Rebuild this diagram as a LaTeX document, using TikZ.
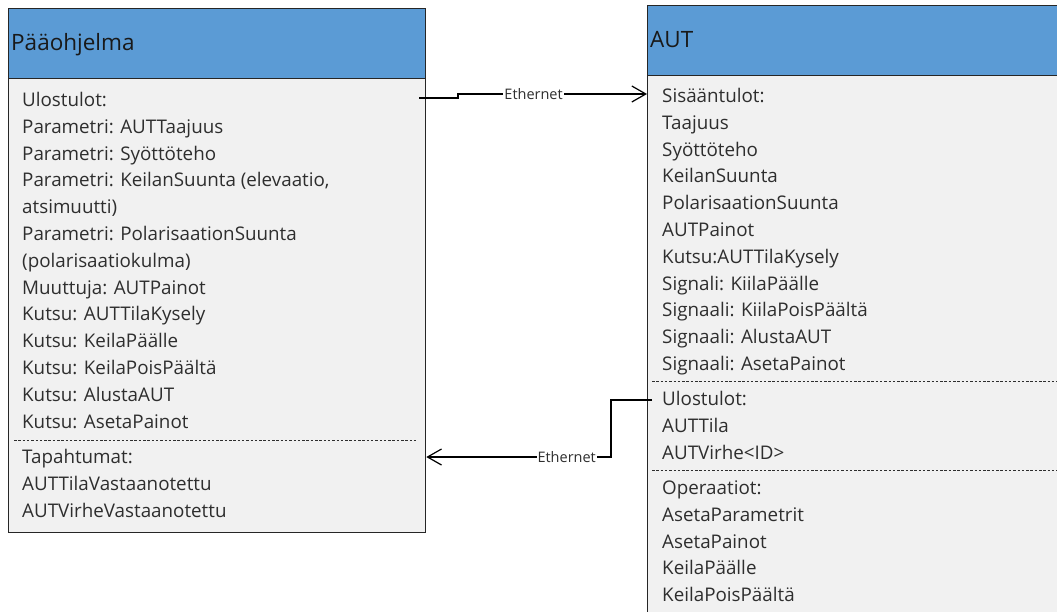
\documentclass[tikz,border=0pt]{standalone}
\usepackage{fontspec}
\setmainfont{Open Sans}
\usetikzlibrary{arrows.meta,calc}
\definecolor{hdrblue}{HTML}{5B9BD5}
\definecolor{bodygray}{HTML}{F1F1F1}
\definecolor{txtgray}{HTML}{2E2E2E}
\tikzset{
  hdr/.style={draw=black!85, line width=1.3pt, fill=hdrblue, anchor=north west, inner sep=0pt},
  body/.style={draw=black!85, line width=1.3pt, fill=bodygray, anchor=north west, inner sep=0pt},
  title/.style={anchor=west, inner sep=0pt, font=\fontsize{22.5}{26}\selectfont, text=black!90},
  item/.style={anchor=base west, inner sep=0pt, font=\fontsize{18.8}{22}\selectfont, text=txtgray},
  sep/.style={draw=txtgray, line width=0.8pt, dash pattern=on 2.5pt off 1.8pt},
  conn/.style={draw=black, line width=1.2pt, -{Straight Barb[length=14pt,width=16pt,line width=1.2pt]}},
  lbl/.style={fill=white, inner sep=1pt, font=\fontsize{14.5}{16}\selectfont, text=txtgray}
}
\begin{document}
\begin{tikzpicture}[x=1pt,y=-1pt]
\useasboundingbox (0,0) rectangle (1057,611);
\clip (0,0) rectangle (1057,611);

% Pääohjelma class box
\node[body, minimum width=417pt, minimum height=454pt] (mainbox) at (8,78) {};
\node[hdr, minimum width=417pt, minimum height=70pt] (mainhdr) at (8,8) {};
\node[title] (maintitle) at (11,45) {Pääohjelma};
\foreach \t [count=\i from 0] in {Ulostulot:, Parametri: AUTTaajuus, Parametri: Syöttöteho,
    {Parametri: KeilanSuunta (elevaatio,}, atsimuutti), Parametri: PolarisaationSuunta,
    (polarisaatiokulma), Muuttuja: AUTPainot, Kutsu: AUTTilaKysely, Kutsu: KeilaPäälle,
    Kutsu: KeilaPoisPäältä, Kutsu: AlustaAUT, Kutsu: AsetaPainot}
  \node[item] (L\i) at (22,{106.5+26.8*\i}) {\t};
\draw[sep] (14,440) -- (416,440);
\foreach \t [count=\i from 0] in {Tapahtumat:, AUTTilaVastaanotettu, AUTVirheVastaanotettu}
  \node[item] (T\i) at (22,{463.5+26.8*\i}) {\t};

% AUT class box
\node[body, minimum width=440pt, minimum height=560pt] (autbox) at (647,75) {};
\node[hdr, minimum width=440pt, minimum height=70.5pt] (authdr) at (647,4.5) {};
\node[title] (auttitle) at (650,40) {AUT};
\foreach \t [count=\i from 0] in {Sisääntulot:, Taajuus, Syöttöteho, KeilanSuunta,
    PolarisaationSuunta, AUTPainot, Kutsu:AUTTilaKysely, Signali: KiilaPäälle,
    Signaali: KiilaPoisPäältä, Signaali: AlustaAUT, Signaali: AsetaPainot}
  \node[item] (R\i) at (662,{102.5+26.8*\i}) {\t};
\draw[sep] (652,381) -- (1057,381);
\foreach \t [count=\i from 0] in {Ulostulot:, AUTTila, AUTVirhe<ID>}
  \node[item] (U\i) at (662,{405.5+26.8*\i}) {\t};
\draw[sep] (652,470) -- (1057,470);
\foreach \t [count=\i from 0] in {Operaatiot:, AsetaParametrit, AsetaPainot, KeilaPäälle, KeilaPoisPäältä}
  \node[item] (O\i) at (662,{494.5+26.8*\i}) {\t};

% Ethernet links
\draw[conn] ([xshift=-7pt]mainbox.east |- 0,98) -- (458,98) -- (458,94)
  -- node[lbl, pos=0.4] (eth1) {Ethernet} (autbox.west |- 0,94);
\draw[conn] ([xshift=5pt]autbox.west |- 0,400) -- (611,400) -- (611,457)
  -- node[lbl, pos=0.24] (eth2) {Ethernet} (mainbox.east |- 0,457);
\end{tikzpicture}
\end{document}
